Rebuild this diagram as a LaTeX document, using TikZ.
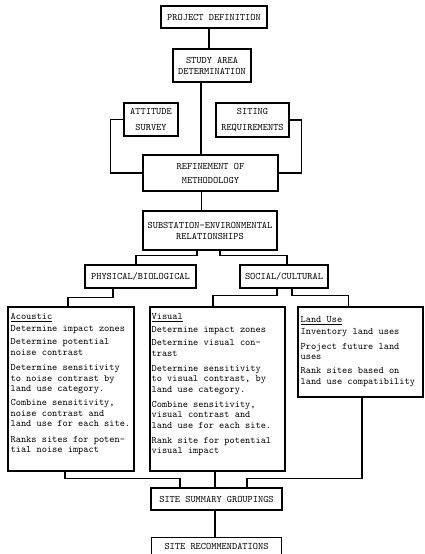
\documentclass[tikz,border=0pt]{standalone}
\usepackage{tikz}
\usetikzlibrary{positioning}

\tikzset{
  stagebox/.style={draw, line width=1.1pt, inner sep=0pt, align=center,
    font=\ttfamily\fontsize{9.9}{11}\selectfont},
  topicbox/.style={draw, line width=1.1pt, inner sep=0pt},
  listtext/.style={anchor=north west, inner sep=0pt, align=left,
    font=\ttfamily\fontsize{9.9}{10.5}\selectfont},
  link/.style={line width=1.1pt}
}

\begin{document}
\begin{tikzpicture}[x=1pt,y=-1pt]
	\useasboundingbox (0,0) rectangle (424,554);

	\node[stagebox, minimum width=106pt, minimum height=22pt] (pd) at (214,17) {PROJECT DEFINITION};
	\node[stagebox, minimum width=78pt, minimum height=33pt] (sad) at (212,65.5) {STUDY AREA\\DETERMINATION};
	\node[stagebox, minimum width=54pt, minimum height=33pt] (att) at (151,119.5) {ATTITUDE\\[4.5pt]SURVEY};
	\node[stagebox, minimum width=73pt, minimum height=34pt] (sit) at (252.5,120) {SITING\\[4.5pt]REQUIREMENTS};
	\node[stagebox, minimum width=135pt, minimum height=36pt] (ref) at (210.5,173) {REFINEMENT OF\\[3pt]METHODOLOGY};
	\node[stagebox, minimum width=134pt, minimum height=39pt] (ser) at (210,230.5) {SUBSTATION-ENVIRONMENTAL\\RELATIONSHIPS};

	\node[stagebox, minimum width=111pt, minimum height=23pt] (phy) at (140.5,276.5) {PHYSICAL/BIOLOGICAL};
	\node[stagebox, minimum width=88pt, minimum height=23pt] (soc) at (284,276.5) {SOCIAL/CULTURAL};

	% topic boxes with their lists
	\node[topicbox, minimum width=126pt, minimum height=164pt] (aco) at (71,389) {};
	\node[listtext] (acotext) at ([xshift=3pt,yshift=-7pt]aco.north west)
	  {\underline{Acoustic}\\[1.5pt]
	   Determine impact zones\\[2.5pt]
	   Determine potential\\ noise contrast\\[5pt]
	   Determine sensitivity\\ to noise contrast by\\ land use category.\\[3.5pt]
	   Combine sensitivity,\\ noise contrast and\\ land use for each site.\\[5pt]
	   Ranks sites for poten-\\ tial noise impact};

	\node[topicbox, minimum width=135pt, minimum height=164pt] (vis) at (217.5,389) {};
	\node[listtext] (vistext) at ([xshift=2pt,yshift=-7pt]vis.north west)
	  {\underline{Visual}\\[2.5pt]
	   Determine impact zones\\[2.5pt]
	   Determine visual con-\\ trast\\[4.5pt]
	   Determine sensitivity\\ to visual contrast, by\\ land use category.\\[4.5pt]
	   Combine sensitivity,\\ visual contrast and\\ land use for each site.\\[4.5pt]
	   Rank site for potential\\ visual impact};

	\node[topicbox, minimum width=125pt, minimum height=90pt] (lan) at (360.5,352) {};
	\node[listtext] (lantext) at ([xshift=3pt,yshift=-10pt]lan.north west)
	  {\underline{Land Use}\\[1pt]
	   Inventory land uses\\[4.5pt]
	   Project future land\\ uses\\[3.5pt]
	   Rank sites based on\\ land use compatibility};

	\node[stagebox, minimum width=131pt, minimum height=22pt] (ssg) at (216.5,499) {SITE SUMMARY GROUPINGS};
	\node[stagebox, minimum width=130pt, minimum height=19pt] (rec) [below = 26pt of ssg] {SITE RECOMMENDATIONS};

	% connectors
	\draw[link] ([xshift=-5pt]pd.south) -- ([xshift=-5pt]pd.south |- sad.north);
	\draw[link] ([xshift=-11pt]sad.south) -- ([xshift=-11pt]sad.south |- ref.north);
	\draw[link] (att.west) -- ++(-13,0) |- (ref.west);
	\draw[link] (sit.east) -- ++(12,0) |- (ref.east);
	\draw[link] ([xshift=-9pt]ref.south) -- ([xshift=-9pt]ref.south |- ser.north);

	\draw[link] ([xshift=-13pt]ser.south) -- ++(0,5) -| ([xshift=-4.5pt]phy.north);
	\draw[link] ([xshift=10pt]ser.south) -- ++(0,5) -| ([xshift=3pt]soc.north);

	\draw[link] ([xshift=-27.5pt]phy.south) -- ++(0,9) -| ([xshift=-3pt]aco.north);
	\draw[link] ([xshift=-7pt]soc.south) -- ++(0,7) -| ([xshift=-4.5pt]vis.north);
	\draw[link] ([xshift=8pt]soc.south) -- ++(0,7) -| ([xshift=-12pt]lan.north);

	\draw[link] ([xshift=-6pt]aco.south) -- ++(0,7) -| ([xshift=-36.5pt]ssg.north);
	\draw[link] ([xshift=-2.5pt]vis.south) -- ([xshift=-2.5pt]vis.south |- ssg.north);
	\draw[link] ([xshift=1.5pt]lan.south) -- ++(0,81) -| ([xshift=30.5pt]ssg.north);
	\draw[link] ([xshift=-1.5pt]ssg.south) -- ([xshift=-1.5pt]ssg.south |- rec.north);
\end{tikzpicture}
\end{document}
